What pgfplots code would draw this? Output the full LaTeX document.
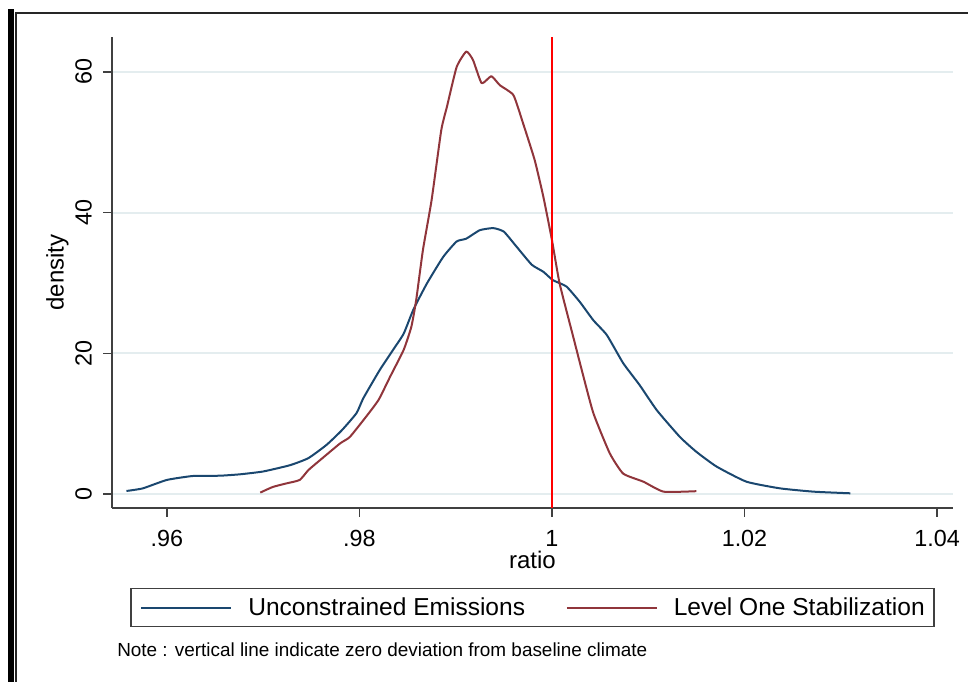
\documentclass[border=0pt]{standalone}
\usepackage{pgfplots}
\pgfplotsset{compat=1.18}
\usepackage{fontspec}
\setmainfont{Liberation Sans}
\definecolor{sblue}{HTML}{1A476F}
\definecolor{sred}{HTML}{90353B}
\definecolor{gridc}{HTML}{E4EDEF}
\begin{document}
\begin{tikzpicture}
\begin{axis}[
  at={(84pt,130.5pt)}, anchor=south west,
  scale only axis, width=630.75pt, height=353.25pt,
  xmin=0.9543, xmax=1.04166, ymin=-1.99, ymax=64.97,
  axis lines=left, axis line style={-, black!75, line width=1.1pt},
  tick align=outside, tick pos=left,
  major tick length=6.5pt, tick style={black!75, line width=1.1pt},
  xtick={0.96,0.98,1,1.02,1.04}, xticklabels={.96,.98,1,1.02,1.04},
  ytick={0,20,40,60}, yticklabels={0,20,40,60},
  yticklabel style={rotate=90, anchor=south, inner sep=8.5pt},
  xticklabel style={yshift=-6.5pt},
  ticklabel style={font=\fontsize{17.5}{20}\selectfont},
  ymajorgrids, grid style={gridc, line width=1.3pt},
  xlabel={ratio}, ylabel={density},
  label style={font=\fontsize{18}{21}\selectfont},
  xlabel style={yshift=3.25pt},
  ylabel style={yshift=-7pt},
  legend columns=2,
  legend style={at={(0.5,-0.2113)}, anchor=center, draw=black!75, line width=1.1pt,
    font=\fontsize{18.4}{21}\selectfont, inner xsep=7pt, inner ysep=5pt,
    nodes={inner xsep=0pt},
    /tikz/every even column/.append style={column sep=30.5pt}},
  legend image code/.code={\draw[#1, line width=1.5pt] (0pt,0pt) -- (67.5pt,0pt); \path (79.5pt,0pt);},
  every axis plot/.append style={line width=1.5pt, line join=round},
]
\addplot[sblue, smooth, tension=0.3] coordinates {
(0.9558,0.43) (0.9575,0.8) (0.9600,2.0) (0.9627,2.56) (0.9655,2.6) (0.9676,2.8)
(0.9700,3.2) (0.9728,4.1) (0.9747,5.1) (0.9766,7.0) (0.9782,9.1) (0.9797,11.5)
(0.9804,13.6) (0.9821,17.6) (0.9835,20.5) (0.9846,22.8) (0.9856,26.2) (0.9870,29.9)
(0.9887,33.7) (0.9901,35.9) (0.9911,36.3) (0.9925,37.5) (0.9939,37.8) (0.9950,37.3)
(0.9963,35.2) (0.9979,32.6) (0.9991,31.6) (1.0001,30.4) (1.0015,29.5) (1.0029,27.3)
(1.0043,24.7) (1.0057,22.6) (1.0074,18.6) (1.0091,15.5) (1.0109,11.9) (1.0133,8.1)
(1.0150,6.0) (1.0171,3.9) (1.0202,1.75) (1.0237,0.8) (1.0272,0.33) (1.0310,0.1)
};
\addlegendentry{Unconstrained Emissions}
\addplot[sred, smooth, tension=0.3] coordinates {
(0.9697,0.2) (0.9710,1.0) (0.9724,1.5) (0.9738,2.0) (0.9747,3.4) (0.9759,4.8)
(0.9780,7.2) (0.9790,8.1) (0.9807,11.0) (0.9820,13.4) (0.9832,16.7) (0.9846,20.5)
(0.9854,23.8) (0.9859,27.6) (0.9866,34.7) (0.9875,41.8) (0.9885,51.7) (0.9891,55.1)
(0.9901,60.7) (0.9911,62.9) (0.9918,61.7) (0.9927,58.4) (0.9937,59.4) (0.9946,58.1)
(0.9960,56.7) (0.9970,52.7) (0.9982,47.5) (0.9991,42.3) (1.0000,36.1) (1.0008,29.9)
(1.0022,22.4) (1.0031,17.6) (1.0043,11.5) (1.0060,5.8) (1.0074,2.9) (1.0095,1.75)
(1.0116,0.33) (1.0150,0.4)
};
\addlegendentry{Level One Stabilization}
\addplot[red, line width=1.6pt, forget plot] coordinates {(1,-1.99) (1,64.97)};
\end{axis}
\node[anchor=west, font=\fontsize{14.2}{17}\selectfont, inner sep=0pt] at (87.75pt,24pt)
  {Note : vertical line indicate zero deviation from baseline climate};
\fill[black] (6pt,0pt) rectangle (10.5pt,504.75pt);
\draw[black!85, line width=1.5pt] (12pt,0pt) -- (12pt,501.75pt) -- (726pt,501.75pt);
\pgfresetboundingbox
\path[use as bounding box] (0,0) rectangle (726pt,511.5pt);
\end{tikzpicture}
\end{document}
